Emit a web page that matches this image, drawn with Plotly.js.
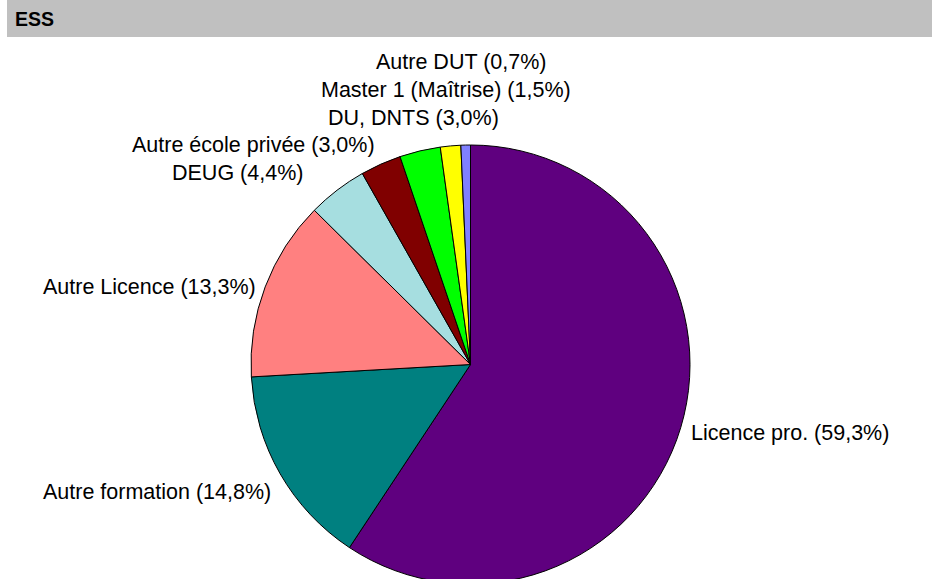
<!DOCTYPE html>
<html>
<head>
<meta charset="utf-8">
<script src="https://cdn.plot.ly/plotly-3.0.1.min.js"></script>
<style>
html, body { margin: 0; padding: 0; overflow: hidden; background: #fff; }
#chart { width: 932px; height: 600px; }
</style>
</head>
<body>
<div id="chart"></div>
<script>
// ---- data ----
const categories = ["Licence pro.", "Autre formation", "Autre Licence", "DEUG", "Autre école privée", "DU, DNTS", "Master 1 (Maîtrise)", "Autre DUT"];
const values = [59.3, 14.8, 13.3, 4.4, 3.0, 3.0, 1.5, 0.7];
const colors = ["#5F007F", "#008080", "#FF8080", "#A6DEE0", "#800000", "#00FF00", "#FFFF00", "#8080FF"];
const chartTitle = "ESS";

// ---- layout settings (pixels) ----
const W = 932, H = 600;
const M = { l: 251, t: 145, w: 439, h: 439 };
// label anchor points: [x, y(center), xanchor]
const labelPlace = [
  [689, 433, "left"],
  [273, 492, "right"],
  [258, 287, "right"],
  [305, 173, "right"],
  [377, 145, "right"],
  [501, 118, "right"],
  [573, 90, "right"],
  [548, 62, "right"]
];
const px = x => (x - M.l) / M.w;
const py = y => 1 - (y - M.t) / M.h;

const fmt = v => v.toFixed(1).replace(".", ",");
const annotations = categories.map((c, i) => ({
  text: c + " (" + fmt(values[i]) + "%)",
  xref: "paper", yref: "paper",
  x: px(labelPlace[i][0]), y: py(labelPlace[i][1]),
  xanchor: labelPlace[i][2], yanchor: "middle",
  showarrow: false,
  font: { family: "Liberation Sans, Arial, sans-serif", size: 21.5, color: "#000" }
}));
annotations.push({
  text: "<b>" + chartTitle + "</b>",
  xref: "paper", yref: "paper",
  x: px(13), y: py(18.5), xanchor: "left", yanchor: "middle",
  showarrow: false,
  font: { family: "Liberation Sans, Arial, sans-serif", size: 19.5, color: "#000" }
});

const trace = {
  type: "pie",
  labels: categories,
  values: values,
  sort: false,
  direction: "clockwise",
  rotation: 0,
  textinfo: "none",
  hoverinfo: "label+percent",
  marker: { colors: colors, line: { color: "#000", width: 1 } },
  showlegend: false
};

const layout = {
  width: W, height: H,
  margin: { l: M.l, r: W - M.l - M.w, t: M.t, b: H - M.t - M.h, pad: 0 },
  paper_bgcolor: "#fff", plot_bgcolor: "#fff",
  showlegend: false,
  shapes: [{
    type: "rect", xref: "paper", yref: "paper",
    x0: px(7), x1: px(932), y0: py(37), y1: py(0),
    fillcolor: "#C0C0C0", line: { width: 0 }, layer: "below"
  }],
  annotations: annotations
};

Plotly.newPlot("chart", [trace], layout, { displayModeBar: false, staticPlot: true });
</script>
</body>
</html>
